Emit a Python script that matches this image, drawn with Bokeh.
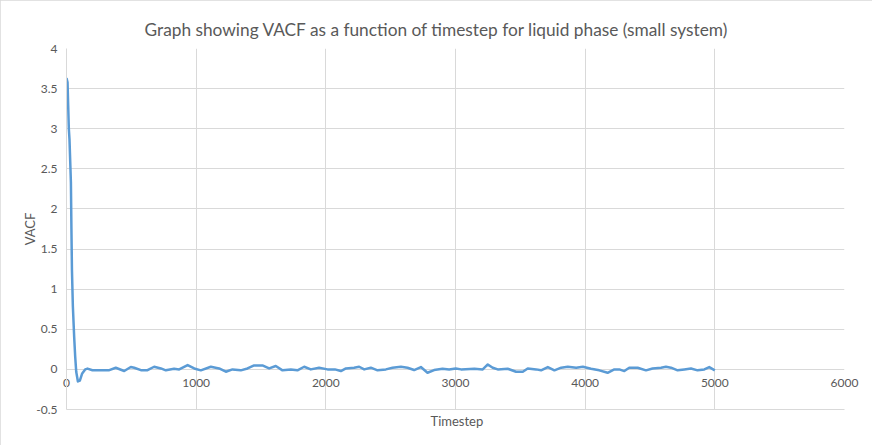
from bokeh.plotting import figure
from bokeh.models import FixedTicker, NumeralTickFormatter, Title, Range1d
from bokeh.embed import file_html
from bokeh.resources import INLINE

# --- data ---
timestep = [0, 8, 13, 18, 23, 34, 38, 42, 49, 59, 67, 75, 88, 103, 121, 144, 162,
            200, 260, 330, 380, 445, 496, 522, 574, 625, 676, 728, 766, 830, 869, 934, 985,
            1036, 1113, 1177, 1229, 1280, 1344, 1396, 1447, 1511, 1563, 1614, 1666, 1730,
            1781, 1833, 1884, 1948, 2013, 2070, 2116, 2155, 2218, 2257, 2296, 2347, 2399,
            2463, 2514, 2579, 2630, 2681, 2733, 2784, 2835, 2900, 2951, 3002, 3043, 3146,
            3210, 3249, 3287, 3326, 3403, 3467, 3519, 3557, 3622, 3660, 3712, 3763, 3815,
            3866, 3931, 3982, 4045, 4109, 4173, 4225, 4263, 4302, 4340, 4405, 4469, 4520,
            4585, 4623, 4662, 4713, 4765, 4816, 4867, 4919, 4957, 5000]
vacf = [3.63, 3.58, 3.29, 3.0, 2.87, 2.33, 1.75, 1.24, 0.79, 0.41, 0.16, -0.03, -0.15,
        -0.14, -0.05, 0.0, 0.01,
        -0.01, -0.01, -0.01, 0.02, -0.02, 0.03, 0.021, -0.01, -0.01, 0.033, 0.012, -0.012,
        0.008, 0.0, 0.054, 0.012,
        -0.012, 0.033, 0.012, -0.029, 0.0, -0.012, 0.012, 0.05, 0.05, 0.012, 0.042, -0.012,
        0.0, -0.012, 0.033, 0.0, 0.021, 0.0, 0.0, -0.021, 0.012, 0.021, 0.033, 0.0, 0.021,
        -0.012, 0.0, 0.021, 0.033, 0.021, -0.008, 0.029, -0.042, -0.008, 0.008, 0.0, 0.012,
        0.0, 0.008, 0.0, 0.062, 0.021, 0.0, 0.008, -0.029, -0.029, 0.012, 0.0, -0.012,
        0.029, -0.012, 0.021, 0.033, 0.021, 0.033, 0.008, -0.012, -0.042, 0.0, 0.0, -0.021,
        0.021, 0.021, -0.012, 0.012, 0.021, 0.033, 0.021, -0.012, 0.0, 0.012, -0.012, 0.0,
        0.029, -0.012]

x_ticks = [0, 1000, 2000, 3000, 4000, 5000, 6000]
y_ticks = [-0.5, 0, 0.5, 1, 1.5, 2, 2.5, 3, 3.5, 4]

title_text = "Graph showing VACF as a function of timestep for liquid phase (small system)"
x_title = "Timestep"
y_title = "VACF"

FONT = "Lato"
GREY = "#595959"
GRID = "#D9D9D9"

p = figure(frame_width=778, frame_height=361, output_backend="svg", toolbar_location=None,
           x_range=Range1d(0, 6000), y_range=Range1d(-0.5, 4),
           min_border_left=66, min_border_right=28, min_border_top=48, min_border_bottom=36)
p.styles = {"outline": "1px solid #D9D9D9", "outline-offset": "-1px"}

p.title.text = title_text
p.title.align = "left"
p.title.offset = 78
p.title.text_font = FONT
p.title.text_font_size = "17.3px"
p.title.text_font_style = "normal"
p.title.text_color = GREY
p.title.standoff = 18

p.outline_line_color = None
p.background_fill_color = "white"
p.border_fill_color = "white"

xa = p.xaxis[0]
xa.ticker = FixedTicker(ticks=x_ticks)
xa.axis_line_color = GRID
xa.major_tick_out = 0
xa.major_tick_in = 0
xa.major_tick_line_color = None
xa.minor_tick_line_color = None
xa.major_label_text_font = FONT
xa.major_label_text_font_size = "12px"
xa.major_label_text_color = GREY
xa.major_label_standoff = -31

p.add_layout(Title(text=x_title, align="left", offset=364, text_font=FONT,
                   text_font_size="13px", text_font_style="normal", text_color=GREY,
                   standoff=2), "below")

ya = p.yaxis[0]
ya.ticker = FixedTicker(ticks=y_ticks)
ya.formatter = NumeralTickFormatter(format="0.[0]")
ya.axis_line_color = GRID
ya.major_tick_out = 0
ya.major_tick_in = 0
ya.major_tick_line_color = None
ya.minor_tick_line_color = None
ya.major_label_text_font = FONT
ya.major_label_text_font_size = "12px"
ya.major_label_text_color = GREY
ya.major_label_standoff = 9
ya.axis_label = y_title
ya.axis_label_text_font = FONT
ya.axis_label_text_font_size = "13px"
ya.axis_label_text_font_style = "normal"
ya.axis_label_text_color = GREY
ya.axis_label_standoff = -5

p.xgrid.ticker = FixedTicker(ticks=x_ticks)
p.ygrid.ticker = FixedTicker(ticks=y_ticks)
p.xgrid.grid_line_color = GRID
p.ygrid.grid_line_color = GRID

p.line(timestep, vacf, line_color="#5B9BD5", line_width=2.5, line_join="round")

open("out.html", "w").write(file_html(p, INLINE))
